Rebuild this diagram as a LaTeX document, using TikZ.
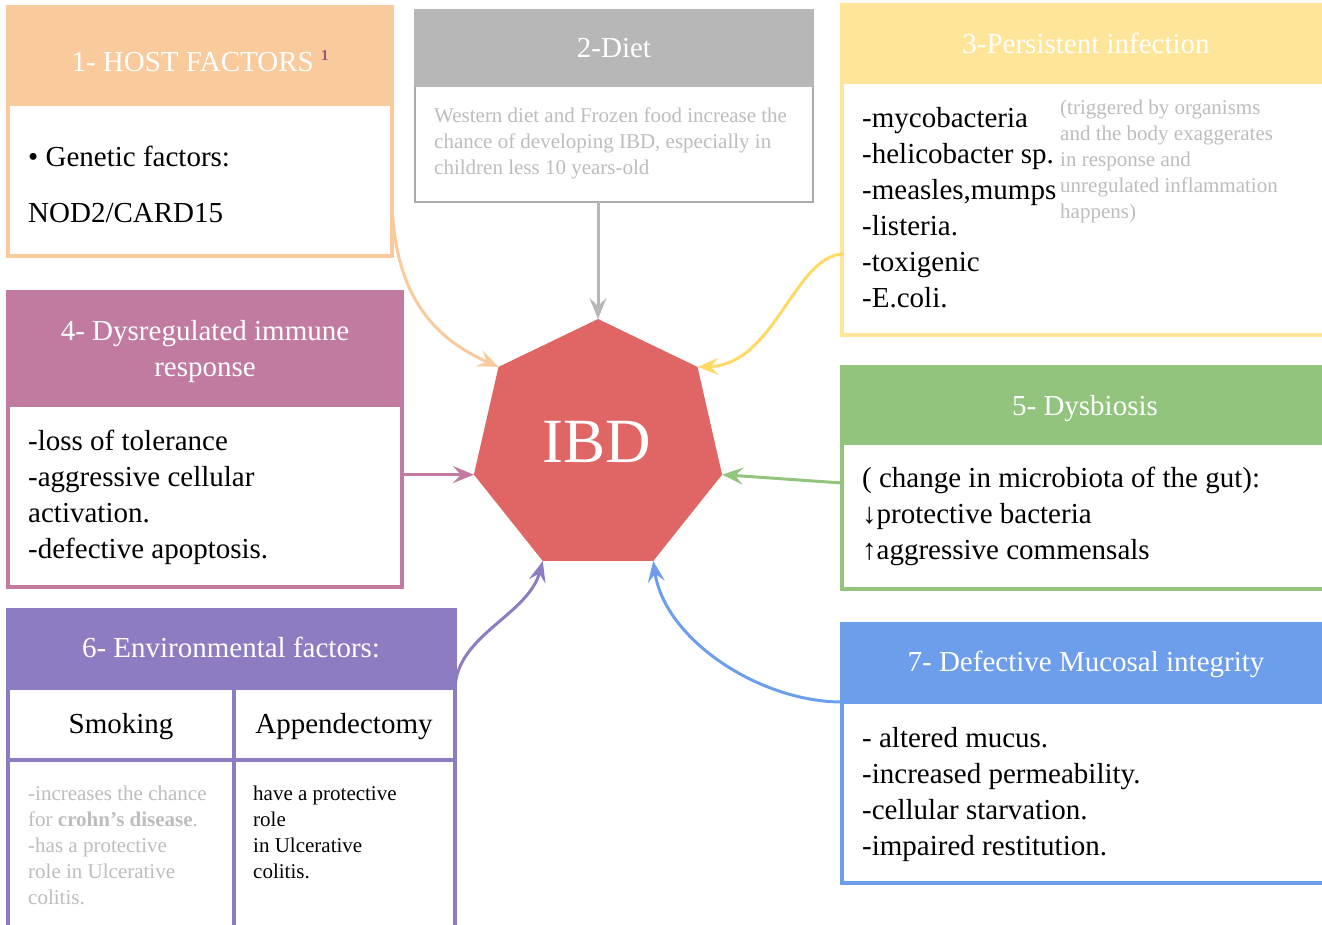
\documentclass[tikz,border=0pt]{standalone}
\usepackage{fontspec}
\setmainfont{Liberation Serif}
\usetikzlibrary{arrows.meta,shapes.geometric,calc}
\definecolor{corange}{HTML}{F9CB9C}
\definecolor{cgray}{HTML}{B7B7B7}
\definecolor{cgrayline}{HTML}{ABABAB}
\definecolor{cyellow}{HTML}{FFE599}
\definecolor{cyarrow}{HTML}{FFD966}
\definecolor{cmauve}{HTML}{C27BA0}
\definecolor{cgreen}{HTML}{93C47D}
\definecolor{cpurple}{HTML}{8E7CC3}
\definecolor{cblue}{HTML}{6D9EEB}
\definecolor{cred}{HTML}{E06666}
\definecolor{csup}{HTML}{A64D79}
\definecolor{ctext}{HTML}{BDBDBD}
\begin{document}
\begin{tikzpicture}[x=1pt,y=1pt,
  panel/.style={draw, line width=3.5pt, fill=white, anchor=north west, inner sep=0pt, outer sep=0pt},
  hdr/.style={panel, fill=#1, draw=#1},
  bigf/.style={font=\fontsize{29}{36}\selectfont},
  smallf/.style={font=\fontsize{21}{26}\selectfont},
  htext/.style={bigf, text=white, inner sep=0pt, anchor=base},
  ltext/.style={bigf, anchor=base west, inner sep=0pt, text width=#1, align=flush left},
  stext/.style={smallf, anchor=base west, inner sep=0pt, text width=#1, align=flush left},
  conn/.style={line width=3pt, -{Stealth[length=21pt,width=17pt,inset=8pt]}},
]
\useasboundingbox (0,0) rectangle (1322,-924);
\clip (0,0) rectangle (1322,-924);

% ---------- Box 1
\node[panel, draw=corange, minimum width=384pt, minimum height=249pt] (b1) at (8,-7) {};
\node[hdr=corange, minimum width=384pt, minimum height=97pt] (h1) at (8,-7) {};
\node[htext] (t1) at (200,-71) {1- HOST FACTORS \raisebox{11pt}{\fontsize{15}{15}\selectfont\bfseries\color{csup}1}};
\node[ltext=350pt] (g1) at (28,-166) {• Genetic factors:};
\node[ltext=350pt] (g2) at (28,-222) {NOD2/CARD15};

% ---------- Box 2
\node[panel, draw=cgrayline, line width=2pt, minimum width=398pt, minimum height=192pt] (b2) at (415,-10) {};
\node[hdr=cgray, line width=2pt, minimum width=398pt, minimum height=76pt] (h2) at (415,-10) {};
\node[htext] (t2) at (614,-57) {2-Diet};
\node[stext=370pt, text=ctext] (d1) at (434,-122) {Western diet and Frozen food increase the\\chance of developing IBD, especially in\\children less 10 years-old};

% ---------- Box 3
\node[panel, draw=cyellow, minimum width=493pt, minimum height=330pt] (b3) at (842,-5) {};
\node[hdr=cyellow, minimum width=493pt, minimum height=77pt] (h3) at (842,-5) {};
\node[htext] (t3) at (1086,-53) {3-Persistent infection};
\node[ltext=200pt] (p1) at (862,-127) {-mycobacteria\\-helicobacter sp.\\-measles,mumps\\-listeria.\\-toxigenic\\-E.coli.};
\node[stext=250pt, text=ctext] (p2) at (1060,-114) {(triggered by organisms\\and the body exaggerates\\in response and\\unregulated inflammation\\happens)};

% ---------- Box 4
\node[panel, draw=cmauve, minimum width=394pt, minimum height=295pt] (b4) at (8,-292) {};
\node[hdr=cmauve, minimum width=394pt, minimum height=113pt] (h4) at (8,-292) {};
\node[htext, text width=380pt, align=flush center] (t4) at (205,-340) {4- Dysregulated immune\\response};
\node[ltext=360pt] (i1) at (28,-450) {-loss of tolerance\\-aggressive cellular\\activation.\\-defective apoptosis.};

% ---------- Box 5
\node[panel, draw=cgreen, minimum width=493pt, minimum height=222pt] (b5) at (842,-367) {};
\node[hdr=cgreen, minimum width=493pt, minimum height=76pt] (h5) at (842,-367) {};
\node[htext] (t5) at (1085,-415) {5- Dysbiosis};
\node[ltext=440pt] (m1) at (862,-487) {( change in microbiota of the gut):\\↓protective bacteria\\↑aggressive commensals};

% ---------- Box 6
\node[panel, draw=cpurple, minimum width=447pt, minimum height=330pt] (b6) at (8,-610) {};
\node[hdr=cpurple, minimum width=447pt, minimum height=78pt] (h6) at (8,-610) {};
\draw[cpurple, line width=3.5pt] ($(h6.south west)+(0,-72)$) -- ($(h6.south east)+(0,-72)$);
\draw[cpurple, line width=3.5pt] ($(h6.south west)+(226,0)$) -- ($(b6.south west)+(226,0)$);
\node[htext] (t6) at (231,-657) {6- Environmental factors:};
\node[bigf, anchor=base, inner sep=0pt] (e1) at (121,-733) {Smoking};
\node[bigf, anchor=base, inner sep=0pt] (e2) at (344,-733) {Appendectomy};
\node[stext=200pt, text=ctext] (e3) at (28,-800) {-increases the chance\\for \textbf{crohn’s disease}.\\-has a protective\\role in Ulcerative\\colitis.};
\node[stext=195pt] (e4) at (253,-800) {have a protective\\role\\in Ulcerative\\colitis.};

% ---------- Box 7
\node[panel, draw=cblue, minimum width=493pt, minimum height=259pt] (b7) at (842,-624) {};
\node[hdr=cblue, minimum width=493pt, minimum height=78pt] (h7) at (842,-624) {};
\node[htext] (t7) at (1086,-671) {7- Defective Mucosal integrity};
\node[ltext=440pt] (k1) at (862,-747) {- altered mucus.\\-increased permeability.\\-cellular starvation.\\-impaired restitution.};

% ---------- IBD
\node[regular polygon, regular polygon sides=7, minimum size=254.6pt, inner sep=0pt, outer sep=0pt, fill=cred] (ibd) at (598,-446.3) {};
\node[font=\fontsize{63}{63}\selectfont, text=white, inner sep=0pt] (ibdt) at (597,-442) {IBD};

% ---------- connectors
\draw[conn, draw=corange] ($(b1.north east)+(0,-193)$) .. controls (394,-300) and (438,-340) .. (ibd.corner 2);
\draw[conn, draw=cgray] (b2.south -| ibd.corner 1) -- (ibd.corner 1);
\draw[conn, draw=cyarrow] ($(b3.north west)+(2,-249)$) .. controls (795,-254) and (775,-365) .. (ibd.corner 7);
\draw[conn, draw=cmauve] (ibd.corner 3 -| b4.east) -- (ibd.corner 3);
\draw[conn, draw=cgreen] ($(b5.north west)+(0,-116)$) -- (ibd.corner 6);
\draw[conn, draw=cpurple] (h6.south east) .. controls (457,-635) and (528,-615) .. (ibd.corner 4);
\draw[conn, draw=cblue] (h7.south west) .. controls (760,-702) and (665,-640) .. (ibd.corner 5);
\end{tikzpicture}
\end{document}
